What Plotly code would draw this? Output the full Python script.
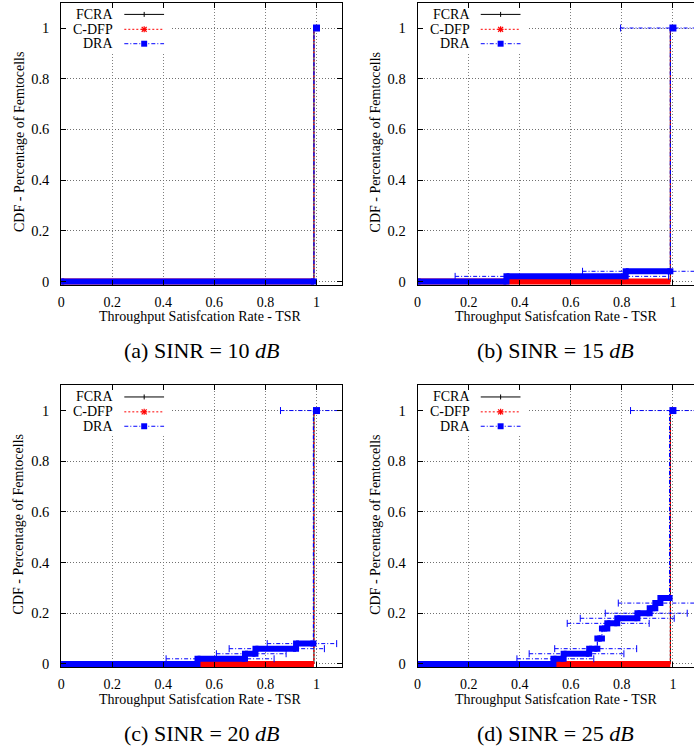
import plotly.graph_objects as go

W, H = 694, 755

# ---------------- data ----------------
tick_vals = [0, 0.2, 0.4, 0.6, 0.8, 1]
tick_text = ["0", "0.2", "0.4", "0.6", "0.8", "1"]

series_names = ["FCRA", "C-DFP", "DRA"]
captions = ["(a) SINR = 10 <i>dB</i>", "(b) SINR = 15 <i>dB</i>",
            "(c) SINR = 20 <i>dB</i>", "(d) SINR = 25 <i>dB</i>"]
x_title = "Throughput Satisfcation Rate - TSR"
y_title = "CDF - Percentage of Femtocells"

# FCRA and C-DFP: CDF stays at 0 until the jump, then 1
fcra_jump = [0.99, 0.99, 0.99, 0.99]
cdfp_jump = [0.99, 0.99, 0.99, 0.99]
final_x = 1.0
final_y = 1.0

# DRA step CDFs: breakpoints (x) and CDF levels between them
dra_a_edges = [0, 0.99]
dra_a_levels = [0]
dra_b_edges = [0, 0.348, 0.815, 0.99]
dra_b_levels = [0, 0.02, 0.04]
dra_c_edges = [0, 0.534, 0.72, 0.761, 0.92, 0.988]
dra_c_levels = [0, 0.02, 0.04, 0.06, 0.08]
dra_d_edges = [0, 0.532, 0.572, 0.672, 0.704, 0.722, 0.743, 0.782, 0.861,
               0.909, 0.931, 0.951, 0.987]
dra_d_levels = [0, 0.02, 0.04, 0.06, 0.10, 0.14, 0.16, 0.18, 0.20, 0.22,
                0.24, 0.26]

# DRA horizontal error bars: level, low x, high x
dra_a_err_y = []
dra_a_err_lo = []
dra_a_err_hi = []
dra_b_err_y = [0.02, 0.04, 1.0]
dra_b_err_lo = [0.147, 0.646, 0.795]
dra_b_err_hi = [0.983, 1.15, 1.15]
dra_c_err_y = [0.02, 0.04, 0.06, 0.08, 1.0]
dra_c_err_lo = [0.411, 0.608, 0.658, 0.807, 0.859]
dra_c_err_hi = [0.834, 0.881, 1.031, 1.079, 1.15]
dra_d_err_y = [0.02, 0.04, 0.06, 0.16, 0.18, 0.20, 0.24, 1.0]
dra_d_err_lo = [0.389, 0.437, 0.537, 0.586, 0.637, 0.735, 0.786, 0.834]
dra_d_err_hi = [0.69, 0.808, 0.858, 0.907, 1.005, 1.056, 1.15, 1.15]

dra_edges = [dra_a_edges, dra_b_edges, dra_c_edges, dra_d_edges]
dra_levels = [dra_a_levels, dra_b_levels, dra_c_levels, dra_d_levels]
err_y = [dra_a_err_y, dra_b_err_y, dra_c_err_y, dra_d_err_y]
err_lo = [dra_a_err_lo, dra_b_err_lo, dra_c_err_lo, dra_d_err_lo]
err_hi = [dra_a_err_hi, dra_b_err_hi, dra_c_err_hi, dra_d_err_hi]

# ---------------- styling / layout ----------------
FONT = "Liberation Serif"
BLUE = "#0000ff"
RED = "#ff0000"
BLACK = "#000000"
DASHDOT = "4px,2px,1px,2px"
DOTTED = "2px,2px"
GRIDDOT = "1px,2px"


def px(x):
    return x / W


def py(y):
    return 1 - y / H


col_left = [57.5, 416.0]          # frame left edge (pixels)
col_right = [340.0, 694.0]
x_unit = 256.8
row_top = [2.7, 387.8]            # y = 1.1 pixel
row_zero = [283.3, 668.3]         # y = 0 pixel
y_min = -0.014

fig = go.Figure()

for i in range(4):
    r, c = divmod(i, 2)
    sfx = "" if i == 0 else str(i + 1)
    xa, ya = "x" + sfx, "y" + sfx

    # FCRA
    jx = fcra_jump[i]
    fig.add_trace(go.Scatter(x=[0, jx, jx, final_x], y=[0, 0, final_y, final_y],
                             mode="lines", line=dict(color=BLACK, width=1),
                             xaxis=xa, yaxis=ya, showlegend=False))
    # C-DFP (thick band of markers at 0, thin dotted rise)
    cx = cdfp_jump[i]
    fig.add_trace(go.Scatter(x=[0, cx], y=[0, 0], mode="lines",
                             line=dict(color=RED, width=6),
                             xaxis=xa, yaxis=ya, showlegend=False))
    fig.add_trace(go.Scatter(x=[cx, cx, final_x], y=[0, final_y, final_y],
                             mode="lines", line=dict(color=RED, width=1.2, dash=DOTTED),
                             xaxis=xa, yaxis=ya, showlegend=False))

    # DRA error bars
    ex, ey = [], []
    for yv, lo, hi in zip(err_y[i], err_lo[i], err_hi[i]):
        ex += [lo, hi, None]
        ey += [yv, yv, None]
    if ex:
        fig.add_trace(go.Scatter(x=ex, y=ey, mode="lines+markers",
                                 line=dict(color=BLUE, width=1, dash=DASHDOT),
                                 marker=dict(symbol="line-ns", size=5,
                                             line=dict(color=BLUE, width=1)),
                                 xaxis=xa, yaxis=ya, showlegend=False))

    # DRA thin connecting line
    edges, levels = dra_edges[i], dra_levels[i]
    tx, ty = [], []
    for k, lv in enumerate(levels):
        tx += [edges[k], edges[k + 1]]
        ty += [lv, lv]
    tx += [edges[-1], final_x]
    ty += [final_y, final_y]
    fig.add_trace(go.Scatter(x=tx, y=ty, mode="lines",
                             line=dict(color=BLUE, width=1.2, dash=DASHDOT),
                             xaxis=xa, yaxis=ya, showlegend=False))
    # DRA thick steps (dense square markers in the original)
    sx, sy = [], []
    for k, lv in enumerate(levels):
        sx += [edges[k], edges[k + 1], None]
        sy += [lv, lv, None]
    fig.add_trace(go.Scatter(x=sx, y=sy, mode="lines+markers",
                             line=dict(color=BLUE, width=6),
                             marker=dict(symbol="square", size=6, color=BLUE),
                             xaxis=xa, yaxis=ya, showlegend=False))
    fig.add_trace(go.Scatter(x=[final_x], y=[final_y], mode="markers",
                             marker=dict(symbol="square", size=7, color=BLUE),
                             xaxis=xa, yaxis=ya, showlegend=False, cliponaxis=False))

    # axes
    x_end = (col_right[c] - col_left[c]) / x_unit
    fig.layout["xaxis" + sfx] = dict(
        domain=[px(col_left[c]), px(col_right[c])], range=[0, x_end],
        anchor=ya, tickvals=tick_vals, ticktext=tick_text,
        ticks="inside", ticklen=5, tickcolor=BLACK, showline=True,
        linecolor=BLACK, linewidth=1, mirror="ticks", showgrid=True,
        gridcolor="#808080", griddash=GRIDDOT, gridwidth=1, zeroline=False,
        tickfont=dict(family=FONT, size=14, color=BLACK), ticklabelstandoff=4)
    y_bot = row_zero[r] - y_min * 255.3
    fig.layout["yaxis" + sfx] = dict(
        domain=[py(y_bot), py(row_top[r])], range=[y_min, 1.1],
        anchor=xa, tickvals=tick_vals, ticktext=tick_text,
        ticks="inside", ticklen=5, tickcolor=BLACK, showline=True,
        linecolor=BLACK, linewidth=1, mirror="ticks" if c == 0 else False,
        showgrid=True, gridcolor="#707070", griddash=GRIDDOT, gridwidth=1,
        zeroline=False, tickfont=dict(family=FONT, size=14.5, color=BLACK),
        ticklabelstandoff=8)

    # opaque legend box (covers grid)
    fig.add_shape(type="rect", xref=xa, yref=ya, x0=0.002, x1=0.43, y0=0.902,
                  y1=1.2, fillcolor="white", line=dict(width=0), layer="between")

    # legend entries: text on the left, sample on the right
    dx = col_left[c] - col_left[0]
    dy = row_top[r] - row_top[0]
    rows_y = [14.5 + dy, 29.5 + dy, 44 + dy]
    for k, name in enumerate(series_names):
        yy = rows_y[k]
        fig.add_annotation(x=px(112 + dx), y=py(yy), xref="paper", yref="paper",
                           text=name, showarrow=False, xanchor="right",
                           yanchor="middle",
                           font=dict(family=FONT, size=14, color=BLACK))
        col = [BLACK, RED, BLUE][k]
        dash = ["solid", DOTTED, DASHDOT][k]
        fig.add_shape(type="line", xref="paper", yref="paper",
                      x0=px(121 + dx), x1=px(161 + dx), y0=py(yy), y1=py(yy),
                      line=dict(color=col, width=1, dash=dash), layer="above")
        mx = 141 + dx
        if k == 0:
            fig.add_shape(type="line", xref="paper", yref="paper",
                          x0=px(mx), x1=px(mx), y0=py(yy - 2.5), y1=py(yy + 2.5),
                          line=dict(color=BLACK, width=1), layer="above")
        elif k == 1:
            for (a0, b0, a1, b1) in [(-2.5, -2.5, 2.5, 2.5), (-2.5, 2.5, 2.5, -2.5),
                                     (0, -3, 0, 3), (-3, 0, 3, 0)]:
                fig.add_shape(type="line", xref="paper", yref="paper",
                              x0=px(mx + a0), x1=px(mx + a1),
                              y0=py(yy + b0), y1=py(yy + b1),
                              line=dict(color=RED, width=1.2), layer="above")
        else:
            fig.add_shape(type="rect", xref="paper", yref="paper",
                          x0=px(mx - 3), x1=px(mx + 3), y0=py(yy - 3), y1=py(yy + 3),
                          fillcolor=BLUE, line=dict(width=0), layer="above")

    # axis titles
    fig.add_annotation(x=px(197.5 + dx), y=py(319.0 + (row_zero[r] - row_zero[0])),
                       xref="paper", yref="paper", text=x_title, showarrow=False,
                       xanchor="center", yanchor="middle",
                       font=dict(family=FONT, size=14, color=BLACK))
    fig.add_annotation(x=px(15 + dx), y=py(143 + (row_zero[r] - row_zero[0])),
                       xref="paper", yref="paper", text=y_title, showarrow=False,
                       textangle=-90, xanchor="center", yanchor="middle",
                       font=dict(family=FONT, size=14, color=BLACK))
    # caption
    fig.add_annotation(x=px(199 + (356 if c else 0)),
                       y=py(353 + (385.5 if r else 0)),
                       xref="paper", yref="paper", text=captions[i], showarrow=False,
                       xanchor="center", yanchor="middle",
                       font=dict(family=FONT, size=22, color=BLACK))

fig.update_layout(width=W, height=H, margin=dict(l=0, r=0, t=0, b=0),
                  paper_bgcolor="white", plot_bgcolor="white", showlegend=False)

fig.write_html("out.html", config={"displayModeBar": False},
               post_script="document.body.style.margin='0';"
                           "document.body.style.overflow='hidden';")
